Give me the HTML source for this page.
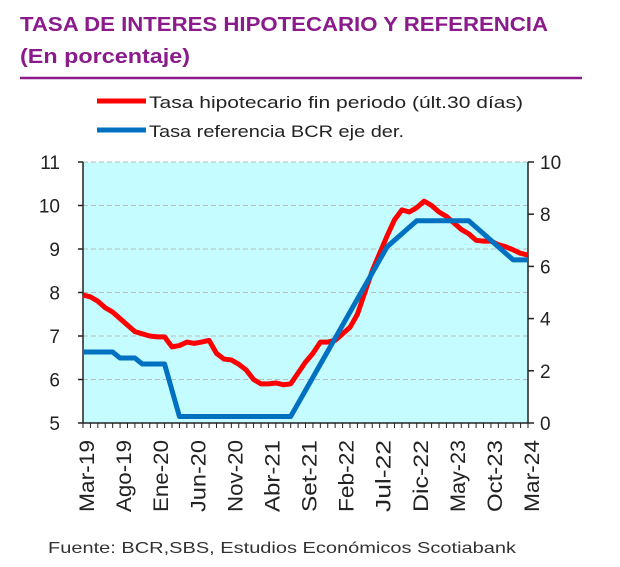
<!DOCTYPE html>
<html><head><meta charset="utf-8">
<style>
html,body{margin:0;padding:0;background:#fff;}
svg{display:block;font-family:"Liberation Sans",sans-serif;}
</style></head>
<body>
<svg id="chart" width="620" height="567" viewBox="0 0 620 567">
<text x="20" y="31" font-size="20" font-weight="bold" fill="#8b1a8b" textLength="528" lengthAdjust="spacingAndGlyphs">TASA DE INTERES HIPOTECARIO Y REFERENCIA</text>
<text x="20" y="63" font-size="20" font-weight="bold" fill="#8b1a8b" textLength="170" lengthAdjust="spacingAndGlyphs">(En porcentaje)</text>
<line x1="20" y1="78" x2="582" y2="78" stroke="#8b1a8b" stroke-width="2.5"/>
<g>
<line x1="97" y1="101" x2="146" y2="101" stroke="#ff0000" stroke-width="5"/>
<text x="149" y="108" font-size="17" fill="#222" textLength="374" lengthAdjust="spacingAndGlyphs">Tasa hipotecario fin periodo (últ.30 días)</text>
<line x1="97" y1="130" x2="146" y2="130" stroke="#0070c0" stroke-width="5"/>
<text x="149" y="137" font-size="17" fill="#222" textLength="255" lengthAdjust="spacingAndGlyphs">Tasa referencia BCR eje der.</text>
</g>
<rect x="83" y="162" width="445" height="261" fill="#c5fcff"/>
<g id="grid"></g>
<g id="axes"></g>
<g id="series"></g>
<text x="48" y="553" font-size="16" fill="#333" textLength="468" lengthAdjust="spacingAndGlyphs">Fuente: BCR,SBS, Estudios Económicos Scotiabank</text>
</svg>
<script>
const leftTicks = [5,6,7,8,9,10,11];
const rightTicks = [0,2,4,6,8,10];
const xLabels = ["Mar-19","Ago-19","Ene-20","Jun-20","Nov-20","Abr-21","Set-21","Feb-22","Jul-22","Dic-22","May-23","Oct-23","Mar-24"];
const mortgageRate = [7.94,7.9,7.8,7.65,7.55,7.4,7.25,7.1,7.05,7.0,6.98,6.98,6.75,6.78,6.86,6.83,6.86,6.9,6.6,6.47,6.45,6.35,6.22,6.0,5.9,5.9,5.92,5.88,5.9,6.15,6.4,6.6,6.86,6.86,6.9,7.05,7.2,7.5,8.0,8.5,8.9,9.3,9.67,9.9,9.85,9.95,10.1,10.0,9.85,9.75,9.6,9.45,9.35,9.2,9.18,9.18,9.1,9.05,8.98,8.9,8.86];
const referenceRate = [2.72,2.72,2.72,2.72,2.72,2.49,2.49,2.49,2.26,2.26,2.26,2.26,1.25,0.25,0.25,0.25,0.25,0.25,0.25,0.25,0.25,0.25,0.25,0.25,0.25,0.25,0.25,0.25,0.25,0.75,1.25,1.75,2.25,2.75,3.25,3.75,4.25,4.75,5.25,5.75,6.25,6.75,7.0,7.25,7.5,7.75,7.75,7.75,7.75,7.75,7.75,7.75,7.75,7.5,7.25,7.0,6.75,6.5,6.25,6.25,6.25];

const NS="http://www.w3.org/2000/svg";
const X0=83,X1=528,Y0=162,Y1=423;
const n=mortgageRate.length;
function xPos(i){return X0+(X1-X0)*i/(n-1);}
function yLeft(v){return Y1-(v-5)/(11-5)*(Y1-Y0);}
function yRight(v){return Y1-(v-0)/(10-0)*(Y1-Y0);}
function mk(tag,attrs,parent){const e=document.createElementNS(NS,tag);for(const k in attrs)e.setAttribute(k,attrs[k]);parent.appendChild(e);return e;}
const grid=document.getElementById('grid'),axes=document.getElementById('axes'),series=document.getElementById('series');
leftTicks.forEach(v=>{
  const y=yLeft(v);
  if(v>5){const g=mk('line',{x1:X0,x2:X1,y1:y,y2:y,stroke:'#bbb','stroke-dasharray':'5,3','stroke-width':1},grid);
  
  }
  const t=mk('line',{x1:X0-5,x2:X0,y1:y,y2:y,stroke:'#222','stroke-width':1.5},axes);
  
  
  const l=mk('text',{x:60,y:y+7,'font-size':19,'text-anchor':'end',fill:'#222'},axes);
  l.textContent=v;
  
  
});
rightTicks.forEach(v=>{
  const y=yRight(v);
  const t=mk('line',{x1:X1,x2:X1+6,y1:y,y2:y,stroke:'#222','stroke-width':1.5},axes);
  
  
  const l=mk('text',{x:540,y:y+7,'font-size':19,fill:'#222'},axes);
  l.textContent=v;
  
  
});
const la=mk('line',{x1:X0,x2:X0,y1:Y0,y2:Y1,stroke:'#222','stroke-width':1.5},axes);


const ra=mk('line',{x1:X1,x2:X1,y1:Y0,y2:Y1,stroke:'#222','stroke-width':1.5},axes);


const xa=mk('line',{x1:X0,x2:X1,y1:Y1,y2:Y1,stroke:'#222','stroke-width':1.5},axes);


for(let i=0;i<n;i++){
  const t=mk('line',{x1:xPos(i),x2:xPos(i),y1:Y1,y2:Y1+5,stroke:'#222','stroke-width':1},axes);
  
  
}
xLabels.forEach((s,k)=>{
  const x=xPos(k*5)+11;
  const l=mk('text',{x:x,y:440,'font-size':21,'text-anchor':'end',fill:'#222',textLength:72,lengthAdjust:'spacingAndGlyphs',transform:`rotate(-90 ${x} 440)`},axes);
  l.textContent=s;
  
  
});
const pm=mk('polyline',{points:mortgageRate.map((v,i)=>xPos(i)+','+yLeft(v)).join(' '),fill:'none',stroke:'#ff0000','stroke-width':5,'stroke-linejoin':'round'},series);


const pr=mk('polyline',{points:referenceRate.map((v,i)=>xPos(i)+','+yRight(v)).join(' '),fill:'none',stroke:'#0070c0','stroke-width':5,'stroke-linejoin':'round'},series);


</script>
</body></html>
